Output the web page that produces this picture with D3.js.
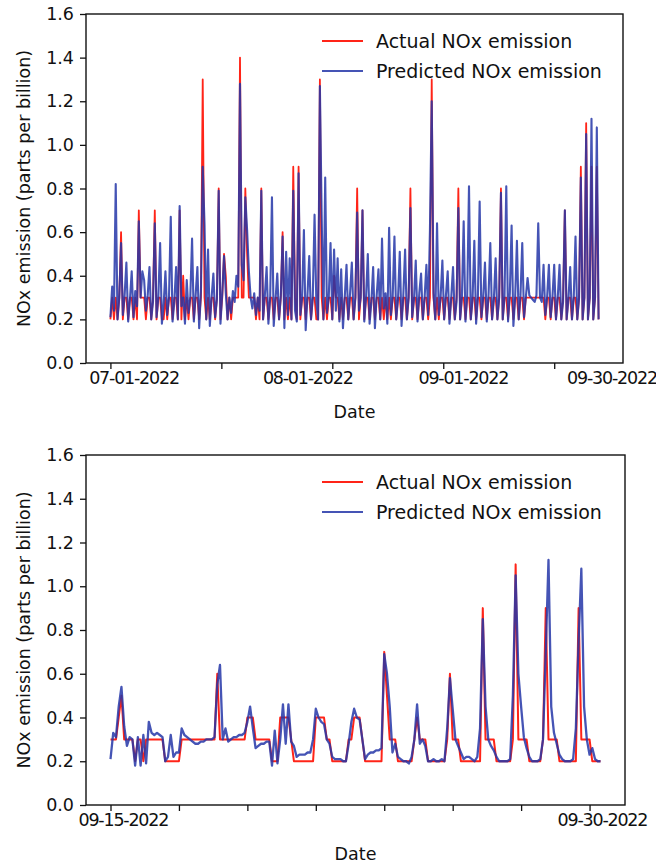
<!DOCTYPE html>
<html>
<head>
<meta charset="utf-8">
<title>NOx emission</title>
<script src="https://d3js.org/d3.v7.min.js"></script>
<style>
  body { margin: 0; background: #fff; }
  text { font-family: "DejaVu Sans", sans-serif; fill: #111; }
</style>
</head>
<body>
<svg width="656" height="865"></svg>
<script>
// ---- data ----
// top panel: 07-01 .. 09-30, one value every 8 hours
const topStep = 8;
const topActual = [
  .2,.3,.2,.3,.2,.3,.6,.2,.3,.3,.2,.3,
  .3,.2,.3,.2,.7,.3,.3,.3,.2,.3,.3,.2,
  .3,.7,.2,.3,.3,.2,.2,.3,.2,.3,.3,.2,
  .3,.3,.2,.7,.2,.4,.2,.3,.2,.3,.3,.2,
  .3,.3,.2,.3,1.3,.3,.2,.3,.2,.3,.3,.2,
  .3,.8,.2,.3,.5,.4,.2,.3,.2,.3,.3,.3,
  .3,1.4,.3,.3,.8,.5,.3,.3,.3,.3,.2,.3,
  .2,.8,.2,.3,.3,.2,.3,.3,.2,.3,.3,.2,
  .3,.6,.2,.3,.2,.3,.2,.9,.3,.2,.9,.2,
  .3,.3,.2,.3,.3,.2,.3,.3,.2,.2,1.3,.3,
  .2,.3,.2,.3,.3,.2,.4,.3,.3,.2,.3,.2,
  .3,.3,.2,.3,.3,.2,.3,.8,.2,.3,.7,.2,
  .3,.3,.2,.3,.3,.2,.3,.3,.2,.3,.2,.3,
  .2,.3,.2,.3,.3,.2,.3,.3,.2,.3,.3,.2,
  .3,.8,.2,.3,.3,.2,.3,.3,.2,.3,.3,.2,
  .3,1.3,.3,.2,.3,.2,.3,.3,.2,.3,.3,.2,
  .3,.3,.2,.3,.8,.2,.3,.3,.2,.3,.3,.2,
  .3,.3,.2,.3,.3,.2,.3,.3,.2,.3,.3,.2,
  .3,.3,.2,.3,.8,.2,.3,.3,.2,.3,.3,.2,
  .3,.3,.2,.3,.3,.2,.3,.3,.3,.3,.3,.3,
  .3,.3,.3,.3,.3,.2,.3,.3,.2,.3,.3,.2,
  .3,.3,.2,.3,.7,.2,.3,.3,.2,.3,.3,.2,
  .3,.9,.2,.3,1.1,.2,.3,.9,.2,.3,.9,.2
];
const topPredicted = [
  .21,.35,.24,.82,.2,.3,.55,.22,.31,.46,.19,.29,
  .42,.21,.33,.26,.65,.3,.42,.38,.24,.31,.44,.2,
  .28,.64,.21,.3,.55,.18,.27,.42,.22,.3,.67,.19,
  .28,.44,.2,.72,.26,.3,.18,.38,.23,.3,.57,.19,
  .31,.44,.16,.33,.9,.64,.2,.52,.17,.3,.41,.21,
  .29,.79,.18,.32,.49,.32,.2,.3,.23,.33,.28,.4,
  .35,1.28,.45,.38,.76,.61,.42,.3,.25,.32,.22,.3,
  .24,.79,.2,.31,.44,.18,.3,.76,.17,.29,.41,.2,
  .31,.58,.16,.51,.22,.48,.2,.79,.24,.19,.87,.22,
  .3,.61,.15,.31,.49,.2,.3,.68,.28,.2,1.27,.68,
  .2,.85,.23,.3,.55,.2,.52,.24,.48,.19,.43,.16,
  .3,.45,.2,.32,.46,.2,.3,.69,.24,.3,.7,.19,
  .3,.5,.18,.28,.44,.16,.31,.43,.2,.57,.25,.32,
  .18,.62,.22,.3,.58,.2,.29,.51,.17,.31,.52,.2,
  .3,.71,.21,.29,.47,.19,.32,.41,.2,.3,.45,.22,
  .61,1.2,.32,.2,.64,.22,.3,.47,.2,.31,.42,.18,
  .3,.44,.2,.28,.71,.2,.3,.65,.19,.31,.81,.2,
  .29,.56,.18,.3,.74,.21,.3,.46,.19,.31,.55,.2,
  .29,.48,.2,.3,.78,.2,.3,.81,.19,.32,.63,.17,
  .3,.56,.2,.31,.55,.21,.3,.39,.31,.3,.29,.28,
  .31,.64,.3,.28,.45,.22,.3,.45,.21,.3,.45,.2,
  .3,.45,.2,.28,.7,.2,.29,.44,.2,.3,.58,.2,
  .3,.85,.2,.3,1.05,.2,.3,1.12,.2,.3,1.08,.2
];

// bottom panel: 09-15 .. 09-30, one value every 2 hours
const bottomStep = 2;
const bottomActual = [
  .3,.3,.3,.4,.5,.3,.3,.3,.3,.2,
  .3,.3,.2,.3,.3,.3,.3,.3,.3,.3,
  .2,.2,.2,.2,.2,.2,.3,.3,.3,.3,
  .3,.3,.3,.3,.3,.3,.3,.3,.3,.6,
  .3,.3,.3,.3,.3,.3,.3,.3,.3,.3,
  .4,.4,.4,.3,.3,.3,.3,.3,.3,.2,
  .2,.2,.4,.4,.4,.4,.3,.2,.2,.2,
  .2,.2,.2,.2,.2,.4,.4,.4,.4,.3,
  .3,.2,.2,.2,.2,.2,.2,.3,.3,.4,
  .4,.4,.3,.2,.2,.2,.2,.2,.2,.2,
  .7,.5,.3,.3,.3,.2,.2,.2,.2,.2,
  .2,.3,.4,.3,.3,.3,.2,.2,.2,.2,
  .2,.2,.2,.3,.6,.3,.3,.3,.2,.2,
  .2,.2,.2,.2,.2,.2,.9,.3,.3,.3,
  .3,.2,.2,.2,.2,.2,.2,.3,1.1,.3,
  .3,.3,.3,.2,.2,.2,.2,.2,.3,.9,
  .3,.3,.3,.3,.2,.2,.2,.2,.2,.2,
  .2,.9,.3,.3,.3,.3,.2,.2,.2,.2
];
const bottomPredicted = [
  .21,.33,.31,.45,.54,.36,.27,.31,.3,.18,
  .31,.18,.32,.19,.38,.33,.32,.33,.32,.31,
  .2,.22,.32,.22,.24,.24,.35,.32,.31,.3,
  .29,.28,.28,.29,.29,.3,.3,.3,.31,.55,
  .64,.3,.35,.29,.3,.31,.31,.32,.32,.33,
  .38,.45,.35,.26,.27,.28,.28,.29,.29,.18,
  .34,.19,.3,.46,.28,.46,.29,.27,.22,.23,
  .23,.23,.24,.24,.3,.44,.4,.38,.37,.3,
  .28,.22,.21,.21,.21,.2,.2,.28,.38,.44,
  .4,.39,.3,.21,.23,.24,.24,.25,.25,.26,
  .69,.6,.45,.24,.28,.22,.21,.2,.2,.19,
  .22,.3,.46,.28,.3,.27,.2,.2,.21,.2,
  .2,.21,.2,.35,.58,.44,.3,.27,.24,.21,
  .22,.22,.21,.2,.22,.35,.85,.45,.3,.27,
  .25,.22,.2,.2,.2,.2,.21,.5,1.05,.6,
  .45,.31,.26,.22,.2,.2,.2,.21,.3,.7,
  1.12,.45,.33,.28,.23,.21,.2,.2,.2,.21,
  .35,.75,1.08,.45,.3,.23,.26,.21,.2,.2
];

const yTicks = [0, 0.2, 0.4, 0.6, 0.8, 1.0, 1.2, 1.4, 1.6];
const topTickHours = [0, 500, 1000, 1500, 2000];
const topLabelHours = [104, 887, 1588, 2258];
const topLabels = ["07-01-2022", "08-01-2022", "09-01-2022", "09-30-2022"];
const bottomTickHours = [0, 50, 100, 150, 200, 250, 300, 350];
const bottomLabelHours = [9, 359];
const bottomLabels = ["09-15-2022", "09-30-2022"];
const seriesNames = ["Actual NOx emission", "Predicted NOx emission"];
const seriesColors = ["#ff2418", "#2536a8"];

const svg = d3.select("svg");

function drawPanel(p) {
  const x = d3.scaleLinear()
    .domain([-0.05 * p.lastHour, 1.05 * p.lastHour])
    .range([p.left, p.right]);
  const y = d3.scaleLinear().domain([0, 1.6]).range([p.bottom, p.top]);

  const g = svg.append("g");

  // lines: actual first, predicted over it
  const line = d3.line()
    .x((d, i) => x(i * p.step))
    .y(d => y(d));

  g.append("path")
    .datum(p.actual)
    .attr("d", line)
    .attr("fill", "none")
    .attr("stroke", seriesColors[0])
    .attr("stroke-width", p.widths[0])
    .attr("stroke-linejoin", "round");

  g.append("path")
    .datum(p.predicted)
    .attr("d", line)
    .attr("fill", "none")
    .attr("stroke", seriesColors[1])
    .attr("stroke-opacity", 0.85)
    .attr("stroke-width", p.widths[1])
    .attr("stroke-linejoin", "round");

  // y axis
  const yAxis = g.append("g")
    .attr("transform", `translate(${p.left},0)`)
    .call(d3.axisLeft(y).tickValues(yTicks).tickFormat(d3.format(".1f")).tickSize(6).tickPadding(6));
  yAxis.select(".domain").remove();
  yAxis.selectAll("line").attr("stroke", "#111").attr("stroke-width", 1.3);
  yAxis.selectAll("text").style("font-size", "17.5px").attr("fill", "#111");

  // x ticks (marks only)
  const xTickAxis = g.append("g")
    .attr("transform", `translate(0,${p.bottom})`)
    .call(d3.axisBottom(x).tickValues(p.tickHours).tickFormat("").tickSize(6));
  xTickAxis.select(".domain").remove();
  xTickAxis.selectAll("line").attr("stroke", "#111").attr("stroke-width", 1.3);

  // x labels
  const xLabelAxis = g.append("g")
    .attr("transform", `translate(0,${p.bottom})`)
    .call(d3.axisBottom(x).tickValues(p.labelHours)
      .tickFormat((d, i) => p.labels[i]).tickSize(0).tickPadding(9));
  xLabelAxis.select(".domain").remove();
  xLabelAxis.selectAll("text")
    .style("font-size", "17.5px")
    .style("letter-spacing", "-1.2px")
    .attr("fill", "#111");

  // frame
  g.append("rect")
    .attr("x", p.left).attr("y", p.top)
    .attr("width", p.right - p.left).attr("height", p.bottom - p.top)
    .attr("fill", "none").attr("stroke", "#111").attr("stroke-width", 1.4);

  // axis titles
  g.append("text")
    .attr("transform", `translate(29.5,${(p.top + p.bottom) / 2}) rotate(-90)`)
    .attr("text-anchor", "middle")
    .style("font-size", "17.5px")
    .text("NOx emission (parts per billion)");

  g.append("text")
    .attr("x", (p.left + p.right) / 2)
    .attr("y", p.bottom + 55)
    .attr("text-anchor", "middle")
    .style("font-size", "17.5px")
    .text("Date");

  // legend
  const lg = g.append("g").attr("transform", `translate(322,${p.top + 27})`);
  seriesNames.forEach((name, i) => {
    lg.append("line")
      .attr("x1", 0).attr("x2", 41)
      .attr("y1", i * 30).attr("y2", i * 30)
      .attr("stroke", seriesColors[i])
      .attr("stroke-opacity", i ? 0.85 : 1)
      .attr("stroke-width", 2);
    lg.append("text")
      .attr("x", 54).attr("y", i * 30 + 7)
      .style("font-size", "19px")
      .text(name);
  });
}

drawPanel({
  left: 86, right: 623, top: 14, bottom: 363,
  step: topStep, lastHour: (topActual.length - 1) * topStep,
  actual: topActual, predicted: topPredicted, widths: [1.8, 2.1],
  tickHours: topTickHours, labelHours: topLabelHours, labels: topLabels
});

drawPanel({
  left: 86, right: 625, top: 455, bottom: 805,
  step: bottomStep, lastHour: (bottomActual.length - 1) * bottomStep,
  actual: bottomActual, predicted: bottomPredicted, widths: [2, 2.3],
  tickHours: bottomTickHours, labelHours: bottomLabelHours, labels: bottomLabels
});
</script>
</body>
</html>
